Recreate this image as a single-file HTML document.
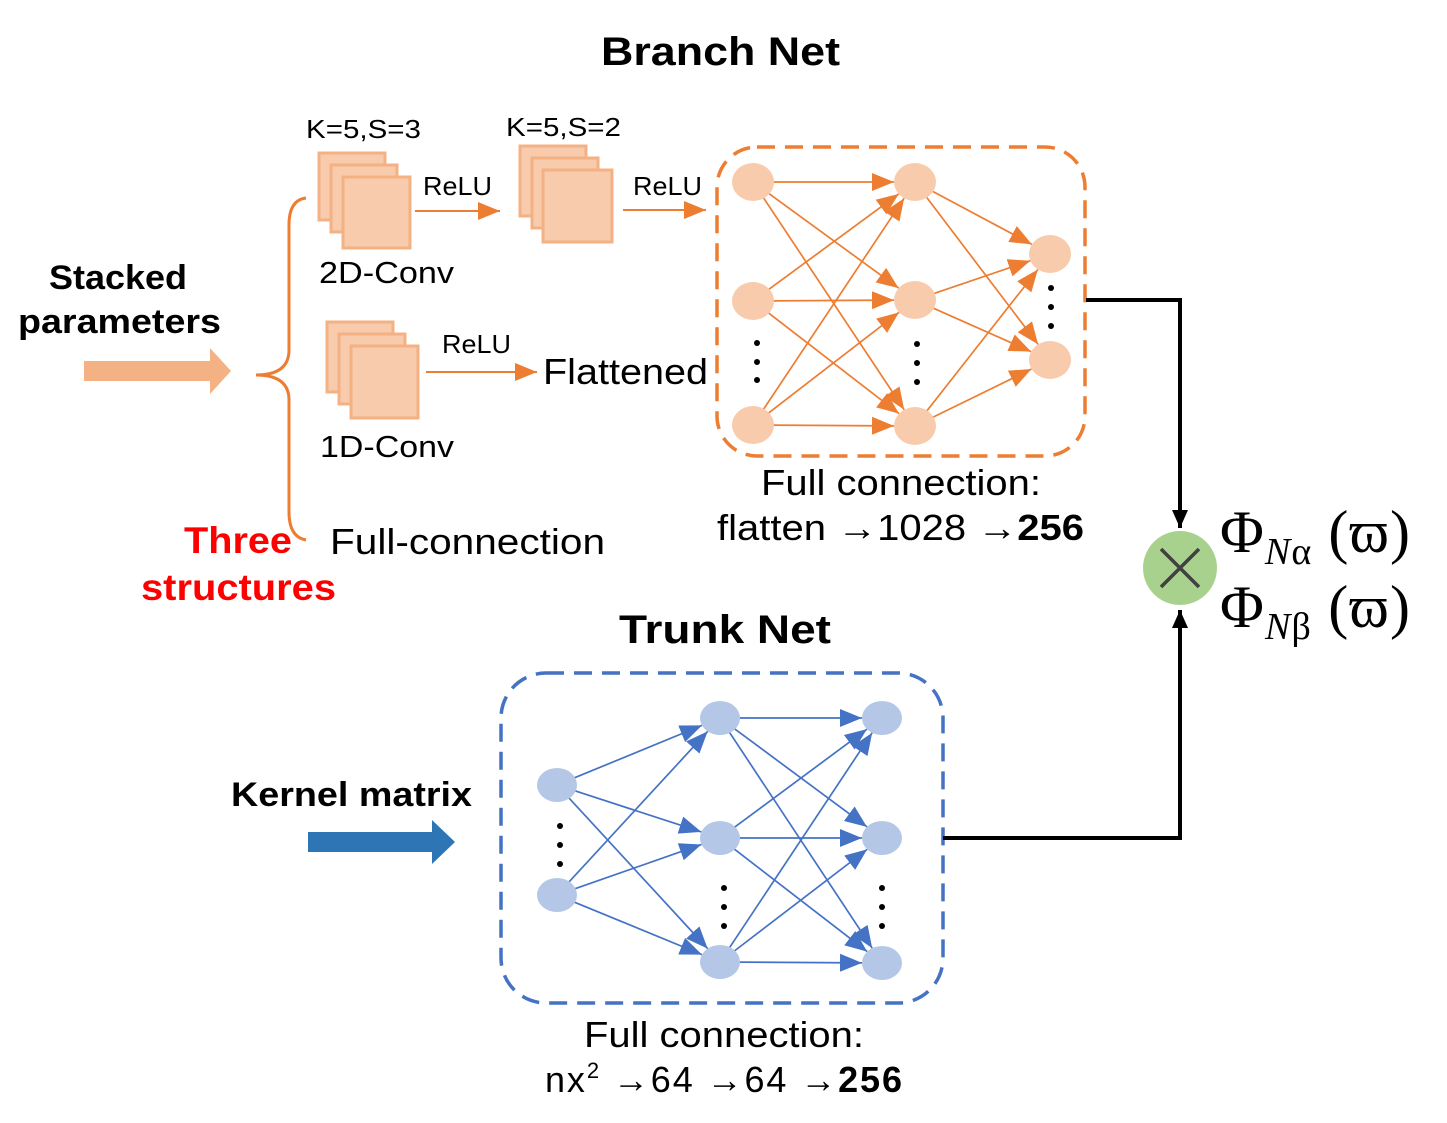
<!DOCTYPE html>
<html><head><meta charset="utf-8"><style>
html,body{margin:0;padding:0;background:#fff;}
svg{display:block;}
text{font-family:"Liberation Sans","DejaVu Sans",sans-serif;}
text.serif{font-family:"Liberation Serif","DejaVu Serif",serif;}
</style></head><body>
<svg id="s" width="1447" height="1123" viewBox="0 0 1447 1123" xmlns="http://www.w3.org/2000/svg">
<defs>
<marker id="aO" viewBox="0 0 10 10" refX="10" refY="5" markerWidth="22" markerHeight="18" orient="auto" markerUnits="userSpaceOnUse" preserveAspectRatio="none"><path d="M0,0 L10,5 L0,10 z" fill="#ed7d31"/></marker>
<marker id="aB" viewBox="0 0 10 10" refX="10" refY="5" markerWidth="22" markerHeight="18" orient="auto" markerUnits="userSpaceOnUse" preserveAspectRatio="none"><path d="M0,0 L10,5 L0,10 z" fill="#4472c4"/></marker>
<marker id="aK" viewBox="0 0 10 10" refX="10" refY="5" markerWidth="18" markerHeight="16" orient="auto" markerUnits="userSpaceOnUse" preserveAspectRatio="none"><path d="M0,0 L10,5 L0,10 z" fill="#000"/></marker>
</defs>
<text x="601" y="65" font-size="40" font-weight="bold" textLength="239" lengthAdjust="spacingAndGlyphs">Branch Net</text>
<text x="619" y="643" font-size="40" font-weight="bold" textLength="212" lengthAdjust="spacingAndGlyphs">Trunk Net</text>
<text x="49" y="289" font-size="34" font-weight="bold" textLength="138" lengthAdjust="spacingAndGlyphs">Stacked</text>
<text x="18" y="333" font-size="34" font-weight="bold" textLength="203" lengthAdjust="spacingAndGlyphs">parameters</text>
<path d="M84,361 H210 V348 L231,371 L210,394 V381 H84 z" fill="#f4b183"/>
<path d="M308,832 H432 V820 L455,842 L432,864 V852 H308 z" fill="#2e75b6"/>
<text x="231" y="806" font-size="34" font-weight="bold" textLength="241" lengthAdjust="spacingAndGlyphs">Kernel matrix</text>
<path d="M306,198 Q289,200 289,225 V350 Q289,375 256,375 Q289,375 289,400 V512 Q289,537 306,540" fill="none" stroke="#ed7d31" stroke-width="3"/>
<text x="184" y="553" font-size="37" font-weight="bold" fill="#ff0000" textLength="108" lengthAdjust="spacingAndGlyphs">Three</text>
<text x="141" y="600" font-size="37" font-weight="bold" fill="#ff0000" textLength="195" lengthAdjust="spacingAndGlyphs">structures</text>
<g fill="#f8cbad" stroke="#f4b183" stroke-width="3">
<rect x="319" y="153" width="66" height="67"/><rect x="331" y="165" width="66" height="67"/><rect x="343" y="177" width="67" height="71"/>
<rect x="520" y="146" width="66" height="70"/><rect x="532" y="158" width="66" height="70"/><rect x="543" y="170" width="69" height="72"/>
<rect x="327" y="322" width="66" height="70"/><rect x="339" y="334" width="66" height="70"/><rect x="351" y="346" width="67" height="72"/>
</g>
<text x="306" y="138" font-size="26" textLength="115" lengthAdjust="spacingAndGlyphs">K=5,S=3</text>
<text x="506" y="136" font-size="26" textLength="115" lengthAdjust="spacingAndGlyphs">K=5,S=2</text>
<text x="319" y="283" font-size="31" textLength="135" lengthAdjust="spacingAndGlyphs">2D-Conv</text>
<text x="320" y="457" font-size="31" textLength="134" lengthAdjust="spacingAndGlyphs">1D-Conv</text>
<text x="423" y="195" font-size="26" textLength="69" lengthAdjust="spacingAndGlyphs">ReLU</text>
<text x="633" y="195" font-size="26" textLength="69" lengthAdjust="spacingAndGlyphs">ReLU</text>
<text x="442" y="353" font-size="26" textLength="69" lengthAdjust="spacingAndGlyphs">ReLU</text>
<line x1="415" y1="211" x2="500" y2="211" stroke="#ed7d31" stroke-width="2" marker-end="url(#aO)"/>
<line x1="623" y1="210" x2="706" y2="210" stroke="#ed7d31" stroke-width="2" marker-end="url(#aO)"/>
<line x1="426" y1="372" x2="537" y2="372" stroke="#ed7d31" stroke-width="2" marker-end="url(#aO)"/>
<text x="543" y="384" font-size="36" textLength="165" lengthAdjust="spacingAndGlyphs">Flattened</text>
<text x="330" y="554" font-size="36" textLength="275" lengthAdjust="spacingAndGlyphs">Full-connection</text>
<rect x="717" y="147" width="368" height="309" rx="40" fill="none" stroke="#ed7d31" stroke-width="3.5" stroke-dasharray="18,10"/>
<rect x="501" y="673" width="442" height="330" rx="45" fill="none" stroke="#4472c4" stroke-width="3.5" stroke-dasharray="18,10"/>
<text x="761" y="495" font-size="36" textLength="280" lengthAdjust="spacingAndGlyphs">Full connection:</text>
<text x="717" y="540" font-size="36" textLength="367" lengthAdjust="spacingAndGlyphs">flatten →1028 →<tspan font-weight="bold">256</tspan></text>
<text x="584" y="1047" font-size="36" textLength="280" lengthAdjust="spacingAndGlyphs">Full connection:</text>
<text x="545" y="1092" font-size="36" textLength="357" lengthAdjust="spacing">nx<tspan font-size="22" dy="-14">2</tspan><tspan dy="14"> →64 →64 →</tspan><tspan font-weight="bold">256</tspan></text>
<g id="edges"></g>
<g id="nodes"></g>
<g fill="#000">
<circle cx="757" cy="343" r="3"/><circle cx="757" cy="362" r="3"/><circle cx="757" cy="380" r="3"/>
<circle cx="917" cy="344" r="3"/><circle cx="917" cy="363" r="3"/><circle cx="917" cy="382" r="3"/>
<circle cx="1051" cy="288" r="3"/><circle cx="1051" cy="307" r="3"/><circle cx="1051" cy="326" r="3"/>
<circle cx="560" cy="826" r="3"/><circle cx="560" cy="845" r="3"/><circle cx="560" cy="864" r="3"/>
<circle cx="724" cy="888" r="3"/><circle cx="724" cy="907" r="3"/><circle cx="724" cy="926" r="3"/>
<circle cx="882" cy="888" r="3"/><circle cx="882" cy="907" r="3"/><circle cx="882" cy="926" r="3"/>
</g>
<polyline points="1086,300 1180,300 1180,528" fill="none" stroke="#000" stroke-width="4" marker-end="url(#aK)"/>
<polyline points="943,838 1180,838 1180,610" fill="none" stroke="#000" stroke-width="4" marker-end="url(#aK)"/>
<circle cx="1180" cy="568" r="37" fill="#a9d18e"/>
<path d="M1161,549 L1199,587 M1199,549 L1161,587" stroke="#404040" stroke-width="3.5"/>
<text class="serif" x="1220" y="552" font-size="60" textLength="190" lengthAdjust="spacing">Φ<tspan font-size="38" font-style="italic" dy="12">N</tspan><tspan font-size="38" dy="0">α</tspan><tspan dy="-12"> (ϖ)</tspan></text>
<text class="serif" x="1220" y="627" font-size="60" textLength="190" lengthAdjust="spacing">Φ<tspan font-size="38" font-style="italic" dy="12">N</tspan><tspan font-size="38" dy="0">β</tspan><tspan dy="-12"> (ϖ)</tspan></text>
</svg>
<script>
(function(){
var NS="http://www.w3.org/2000/svg";
var E=document.getElementById("edges"),N=document.getElementById("nodes");
function net(layers,rx,ry,fill,stroke,mk){
 for(var l=0;l<layers.length-1;l++){
  layers[l].forEach(function(a){layers[l+1].forEach(function(b){
   var dx=b[0]-a[0],dy=b[1]-a[1];
   var t=1/Math.sqrt((dx/rx)*(dx/rx)+(dy/ry)*(dy/ry));
   var ln=document.createElementNS(NS,"line");
   ln.setAttribute("x1",a[0]+t*dx*0.9);ln.setAttribute("y1",a[1]+t*dy*0.9);
   ln.setAttribute("x2",b[0]-t*dx);ln.setAttribute("y2",b[1]-t*dy);
   ln.setAttribute("stroke",stroke);ln.setAttribute("stroke-width","1.7");
   ln.setAttribute("marker-end","url(#"+mk+")");E.appendChild(ln);
  });});
 }
 layers.forEach(function(L){L.forEach(function(p){
  var e=document.createElementNS(NS,"ellipse");
  e.setAttribute("cx",p[0]);e.setAttribute("cy",p[1]);e.setAttribute("rx",rx);e.setAttribute("ry",ry);
  e.setAttribute("fill",fill);N.appendChild(e);});});
}
net([[[753,182],[753,301],[753,425]],[[915,182],[915,300],[915,426]],[[1050,254],[1050,360]]],21,19,"#f8cbad","#ed7d31","aO");
net([[[557,785],[557,895]],[[720,718],[720,838],[720,962]],[[882,718],[882,838],[882,963]]],20,17,"#b4c7e7","#4472c4","aB");
})();
</script>
</body></html>
